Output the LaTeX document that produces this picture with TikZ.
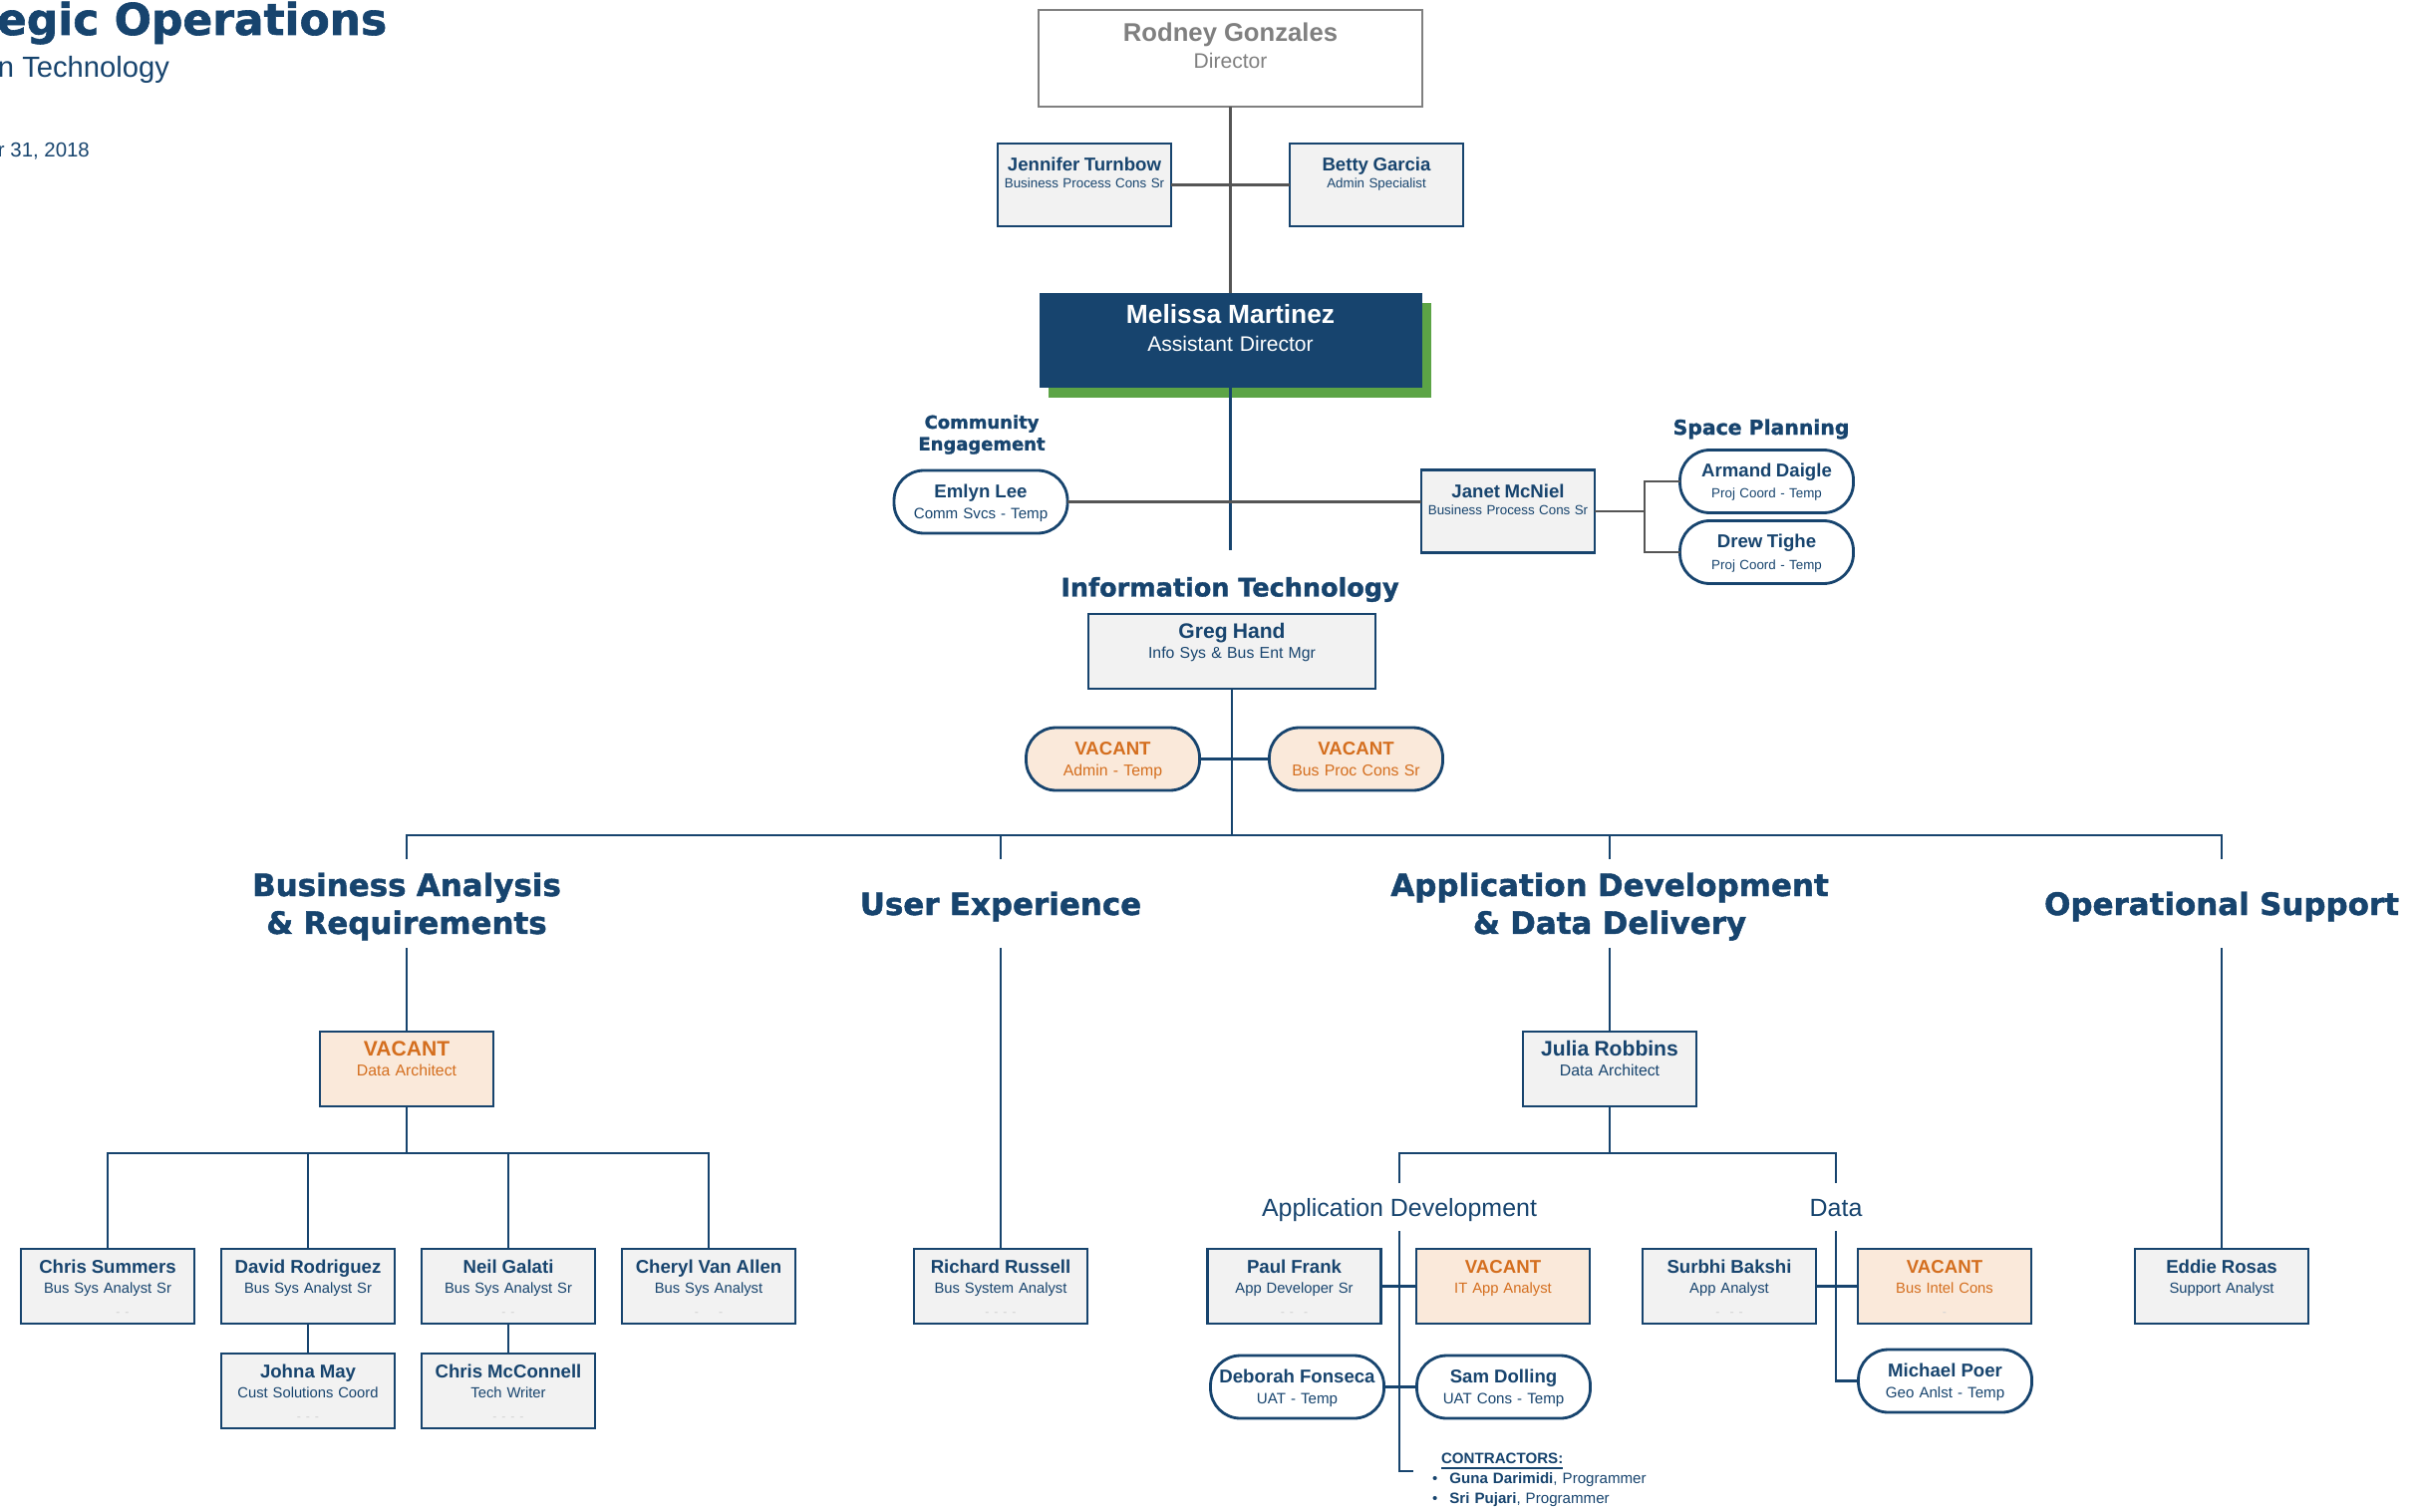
\documentclass[tikz,border=0pt]{standalone}
\usepackage{fontspec}
\setmainfont{Liberation Sans}
\newfontfamily\headfont{DejaVu Sans}[BoldFeatures={FakeBold=1.4}]
\usetikzlibrary{positioning,shadows}

\definecolor{navy}{RGB}{23,68,110}
\definecolor{boxgray}{RGB}{242,242,242}
\definecolor{peach}{RGB}{250,233,218}
\definecolor{vacorange}{RGB}{212,110,30}
\definecolor{linegray}{RGB}{85,85,85}
\definecolor{dirgray}{RGB}{128,128,128}
\definecolor{spgreen}{RGB}{92,164,70}

\newcommand{\nm}[1]{{\fontsize{5.3pt}{6pt}\selectfont\bfseries #1}}
\newcommand{\nmb}[1]{{\fontsize{6pt}{7pt}\selectfont\bfseries #1}}
\newcommand{\dts}[1]{{\color{gray!35}\fontsize{3.5pt}{4pt}\selectfont #1}}

\begin{document}
\begin{tikzpicture}[
    every node/.style={inner sep=0pt, outer sep=0pt},
    staff/.style={draw=navy, fill=boxgray, line width=0.8pt, text=navy, align=center, text width=1.74cm, minimum height=0.75cm, text height=0.24cm, text depth=0.51cm, font=\fontsize{4.2pt}{5.7pt}\selectfont},
    vacant/.style={staff, fill=peach, text=vacorange},
    midbox/.style={staff, font=\fontsize{4.5pt}{5.9pt}\selectfont},
    widebox/.style={staff, minimum height=0.83cm, text height=0.28cm, text depth=0.55cm, font=\fontsize{3.8pt}{4.8pt}\selectfont},
    pill/.style={staff, fill=white, rounded corners=0.3cm, minimum height=0.63cm, text height=0.27cm, text depth=0.36cm, font=\fontsize{4.3pt}{6.2pt}\selectfont},
    vacpill/.style={pill, fill=peach, text=vacorange, font=\fontsize{4.5pt}{6.2pt}\selectfont},
    dept/.style={text=navy, align=center, text width=5cm, minimum height=0.89cm, text height=0.37cm, text depth=0.52cm, font=\headfont\bfseries\fontsize{8.8pt}{10.8pt}\selectfont},
    subdept/.style={text=navy, minimum height=0.48cm, text height=0.33cm, text depth=0.15cm, font=\fontsize{7.1pt}{8pt}\selectfont},
    grouplbl/.style={text=navy, align=center, font=\headfont\bfseries\fontsize{5.1pt}{6.2pt}\selectfont},
    gline/.style={draw=linegray, line width=0.7pt},
    nline/.style={draw=navy, line width=0.7pt}
]
\useasboundingbox (0,0) rectangle (24.26,-15.16);

% page title (cut at the left edge)
\node[anchor=base west, text=navy, font=\headfont\bfseries\fontsize{12.5pt}{14pt}\selectfont] (title) at (-0.03,-0.35) {egic Operations};
\node[anchor=base west, text=navy, font=\fontsize{8.3pt}{10pt}\selectfont] (unit) at (-0.02,-0.78) {n Technology};
\node[anchor=base west, text=navy, font=\fontsize{5.8pt}{7pt}\selectfont] (date) at (-0.02,-1.58) {r 31, 2018};

% director level
\node[draw=dirgray, fill=white, line width=0.8pt, text=dirgray, align=center, text width=3.85cm, minimum height=0.97cm, text height=0.32cm, text depth=0.65cm, font=\fontsize{6pt}{7.4pt}\selectfont] (rodney) at (12.345,-0.585) {{\fontsize{7.3pt}{8pt}\selectfont\bfseries Rodney Gonzales}\\Director};
\node[widebox] (jennifer) at (10.88,-1.855) {\nm{Jennifer Turnbow}\\Business Process Cons Sr};
\node[widebox, right=1.19cm of jennifer] (betty) {\nm{Betty Garcia}\\Admin Specialist};
\node[fill=navy, text=white, align=center, text width=3.84cm, minimum height=0.95cm, text height=0.31cm, text depth=0.64cm, font=\fontsize{6pt}{7.7pt}\selectfont, general shadow={fill=spgreen, shadow xshift=0.09cm, shadow yshift=-0.10cm}, below=1.87cm of rodney] (melissa) {{\fontsize{7.5pt}{8pt}\selectfont\bfseries Melissa Martinez}\\Assistant Director};
\coordinate[below=1.63cm of melissa] (melend);

% staff under the assistant director
\node[grouplbl] (commlbl) at (9.85,-4.36) {Community\\Engagement};
\node[pill] (emlyn) at (9.84,-5.035) {\nm{Emlyn Lee}\\Comm Svcs - Temp};
\node[widebox] (janet) at (15.13,-5.13) {\nm{Janet McNiel}\\Business Process Cons Sr};
\node[grouplbl, font=\headfont\bfseries\fontsize{5.8pt}{7pt}\selectfont] (spacelbl) at (17.67,-4.305) {Space Planning};
\node[pill, font=\fontsize{3.8pt}{6pt}\selectfont] (armand) at (17.725,-4.83) {\nm{Armand Daigle}\\Proj Coord - Temp};
\node[pill, font=\fontsize{3.8pt}{6.4pt}\selectfont, below=0.08cm of armand] (drew) {\nm{Drew Tighe}\\Proj Coord - Temp};
\coordinate (spfork) at (16.50,-5.13);

% information technology
\node[text=navy, font=\headfont\bfseries\fontsize{7.25pt}{8pt}\selectfont] (itlbl) at (12.34,-5.915) {Information Technology};
\node[midbox, text width=2.88cm] (greg) at (12.36,-6.535) {\nmb{Greg Hand}\\Info Sys \& Bus Ent Mgr};
\node[vacpill] (vacadmin) at (11.165,-7.615) {\nm{VACANT}\\Admin - Temp};
\node[vacpill, right=0.70cm of vacadmin] (vacbpc) {\nm{VACANT}\\Bus Proc Cons Sr};
\coordinate (itbus) at (12.36,-8.38);

\node[dept] (bahead) at (4.08,-9.065) {Business Analysis\\\& Requirements};
\node[dept, text height=0.56cm, text depth=0.33cm] (uxhead) at (10.04,-9.065) {User Experience};
\node[dept] (adhead) at (16.15,-9.065) {Application Development\\\& Data Delivery};
\node[dept, text height=0.56cm, text depth=0.33cm] (opshead) at (22.29,-9.065) {Operational Support};

% business analysis
\node[vacant, font=\fontsize{4.5pt}{5.9pt}\selectfont] (bavac) at (4.08,-10.725) {\nmb{VACANT}\\Data Architect};
\coordinate (babus) at (4.08,-11.57);
\node[staff] (chris) at (1.08,-12.905) {\nm{Chris Summers}\\Bus Sys Analyst Sr\\[0.85pt]\dts{\hspace{0.3cm}- -}};
\node[staff, right=0.27cm of chris] (david) {\nm{David Rodriguez}\\Bus Sys Analyst Sr};
\node[staff, right=0.27cm of david] (neil) {\nm{Neil Galati}\\Bus Sys Analyst Sr\\[0.85pt]\dts{- -}};
\node[staff, right=0.27cm of neil] (cheryl) {\nm{Cheryl Van Allen}\\Bus Sys Analyst\\[0.85pt]\dts{-\hspace{0.2cm}-}};
\node[staff, below=0.30cm of david] (johna) {\nm{Johna May}\\Cust Solutions Coord\\[0.85pt]\dts{- - -}};
\node[staff, below=0.30cm of neil] (mcconnell) {\nm{Chris McConnell}\\Tech Writer\\[0.85pt]\dts{- - - -}};

% user experience
\node[staff] (richard) at (10.04,-12.905) {\nm{Richard Russell}\\Bus System Analyst\\[0.85pt]\dts{- - - -}};

% application development and data delivery
\node[midbox] (julia) at (16.15,-10.725) {\nmb{Julia Robbins}\\Data Architect};
\coordinate (adbus) at (16.15,-11.57);
\node[subdept] (appsub) at (14.04,-12.11) {Application Development};
\node[subdept] (datasub) at (18.42,-12.11) {Data};
\node[staff] (paul) at (12.985,-12.905) {\nm{Paul Frank}\\App Developer Sr\\[0.85pt]\dts{- -\hspace{0.1cm}-}};
\node[vacant, right=0.355cm of paul] (itvac) {\nm{VACANT}\\IT App Analyst};
\node[pill] (deborah) at (13.015,-13.915) {\nm{Deborah Fonseca}\\UAT - Temp};
\node[pill, right=0.33cm of deborah] (sam) {\nm{Sam Dolling}\\UAT Cons - Temp};
\node[anchor=base west, text=navy, text width=2.7cm, align=left, font=\fontsize{4.3pt}{5.69pt}\selectfont] (ctr) at (14.37,-14.68) {\hspace{0.09cm}\underline{\textbf{CONTRACTORS:}}\\\textbullet\hspace{0.12cm}\textbf{Guna Darimidi}, Programmer\\\textbullet\hspace{0.12cm}\textbf{Sri Pujari}, Programmer};
\coordinate (ctrend) at (14.18,-14.76);
\node[staff] (surbhi) at (17.35,-12.905) {\nm{Surbhi Bakshi}\\App Analyst\\[0.85pt]\dts{-\hspace{0.1cm}- -}};
\node[vacant, right=0.42cm of surbhi] (bivac) {\nm{VACANT}\\Bus Intel Cons\\[0.85pt]\dts{-}};
\node[pill] (poer) at (19.515,-13.855) {\nm{Michael Poer}\\Geo Anlst - Temp};

% operational support
\node[staff] (eddie) at (22.29,-12.905) {\nm{Eddie Rosas}\\Support Analyst};

% connectors, upper part
\draw[gline] (rodney) -- (melissa);
\draw[gline] (jennifer) -- (betty);
\draw[nline] (melissa) -- (melend);
\draw[gline] (emlyn.east) -- (emlyn.east -| janet.west);
\draw[gline] (janet.east) -- (spfork);
\draw[gline] (armand.west) -| (spfork) |- (drew.west);

% connectors, information technology
\draw[nline] (vacadmin) -- (vacbpc);
\draw[nline] (greg) -- (itbus);
\draw[nline] (bahead.north) |- (itbus) -| (opshead.north);
\draw[nline] (uxhead.north) -- (uxhead.north |- itbus);
\draw[nline] (adhead.north) -- (adhead.north |- itbus);

\draw[nline] (bahead) -- (bavac);
\draw[nline] (bavac) -- (babus);
\draw[nline] (chris.north) |- (babus) -| (cheryl.north);
\draw[nline] (david.north) -- (david.north |- babus);
\draw[nline] (neil.north) -- (neil.north |- babus);
\draw[nline] (david) -- (johna);
\draw[nline] (neil) -- (mcconnell);

\draw[nline] (uxhead) -- (richard);

\draw[nline] (adhead) -- (julia);
\draw[nline] (julia) -- (adbus);
\draw[nline] (appsub.north) |- (adbus) -| (datasub.north);
\draw[nline] (appsub.south) |- (ctrend);
\draw[nline] (paul) -- (itvac);
\draw[nline] (deborah) -- (sam);
\draw[nline] (datasub.south) |- (poer.west);
\draw[nline] (surbhi) -- (bivac);

\draw[nline] (opshead) -- (eddie);
\end{tikzpicture}
\end{document}
